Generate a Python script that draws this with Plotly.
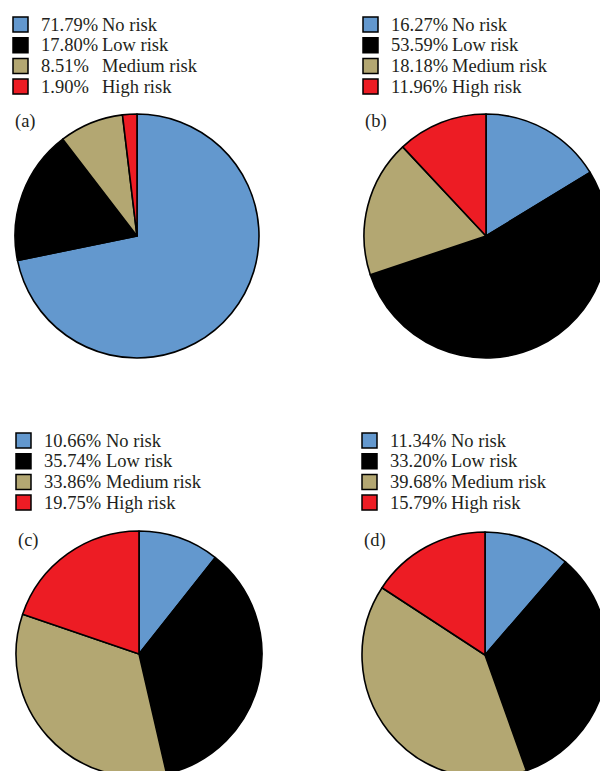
import plotly.graph_objects as go

# Risk categories and their shares (%) for each panel
risk_levels = ["No risk", "Low risk", "Medium risk", "High risk"]
panel_tags = ["(a)", "(b)", "(c)", "(d)"]
share_a = [71.79, 17.80, 8.51, 1.90]
share_b = [16.27, 53.59, 18.18, 11.96]
share_c = [10.66, 35.74, 33.86, 19.75]
share_d = [11.34, 33.20, 39.68, 15.79]
shares = [share_a, share_b, share_c, share_d]

colors = ["#6398CE", "#000000", "#B3A772", "#ED1C24"]

# Canvas is a little larger than the viewport so the outer pies run off the edge
W, H = 612, 780
FONT = "Liberation Serif"
TEXT = "#231F20"
FS = 18.5

# Layout per panel: pie centre, radius, legend square left edge, first row centre,
# percentage text x, category text x, panel tag position
panels = [
    dict(cx=137, cy=236, r=122, sq=13, row0=24.5, px=39, nx=100, tx=13, ty=121),
    dict(cx=486, cy=236, r=122, sq=363, row0=24.5, px=389, nx=450, tx=363, ty=121),
    dict(cx=139, cy=654, r=123, sq=16, row0=440.5, px=42, nx=104, tx=16, ty=540),
    dict(cx=485, cy=655, r=123, sq=362, row0=440.5, px=388, nx=449, tx=362, ty=540),
]
ROW = 20.7
SQ = 15


def fx(p):
    return p / W


def fy(p):
    return 1 - p / H


fig = go.Figure()
shapes = []
annotations = []

for vals, tag, g in zip(shares, panel_tags, panels):
    fig.add_trace(go.Pie(
        values=vals,
        labels=risk_levels,
        sort=False,
        direction="clockwise",
        rotation=0,
        textinfo="none",
        hoverinfo="label+percent",
        showlegend=False,
        marker=dict(colors=colors, line=dict(color="black", width=1.6)),
        domain=dict(x=[fx(g["cx"] - g["r"]), fx(g["cx"] + g["r"])],
                    y=[fy(g["cy"] + g["r"]), fy(g["cy"] - g["r"])]),
    ))

    # legend: coloured square, percentage column, category column
    for i, (v, name, c) in enumerate(zip(vals, risk_levels, colors)):
        yc = g["row0"] + i * ROW
        shapes.append(dict(
            type="rect", xref="paper", yref="paper",
            x0=fx(g["sq"]), x1=fx(g["sq"] + SQ),
            y0=fy(yc - SQ / 2), y1=fy(yc + SQ / 2),
            fillcolor=c, line=dict(color="black", width=1.5),
        ))
        annotations.append(dict(
            x=fx(g["px"]), y=fy(yc), xref="paper", yref="paper",
            xanchor="left", yanchor="middle", showarrow=False,
            text=f"{v:.2f}%", font=dict(family=FONT, size=FS, color=TEXT),
        ))
        annotations.append(dict(
            x=fx(g["nx"]), y=fy(yc), xref="paper", yref="paper",
            xanchor="left", yanchor="middle", showarrow=False,
            text=name, font=dict(family=FONT, size=FS, color=TEXT),
        ))

    annotations.append(dict(
        x=fx(g["tx"]), y=fy(g["ty"]), xref="paper", yref="paper",
        xanchor="left", yanchor="middle", showarrow=False,
        text=tag, font=dict(family=FONT, size=FS, color=TEXT),
    ))

fig.update_layout(
    width=W, height=H,
    margin=dict(l=0, r=0, t=0, b=0),
    paper_bgcolor="white", plot_bgcolor="white",
    shapes=shapes, annotations=annotations,
)

fig.write_html(
    "out.html",
    post_script=(
        "document.body.style.margin='0';"
        "document.body.style.overflow='hidden';"
        "document.documentElement.style.overflow='hidden';"
    ),
)
